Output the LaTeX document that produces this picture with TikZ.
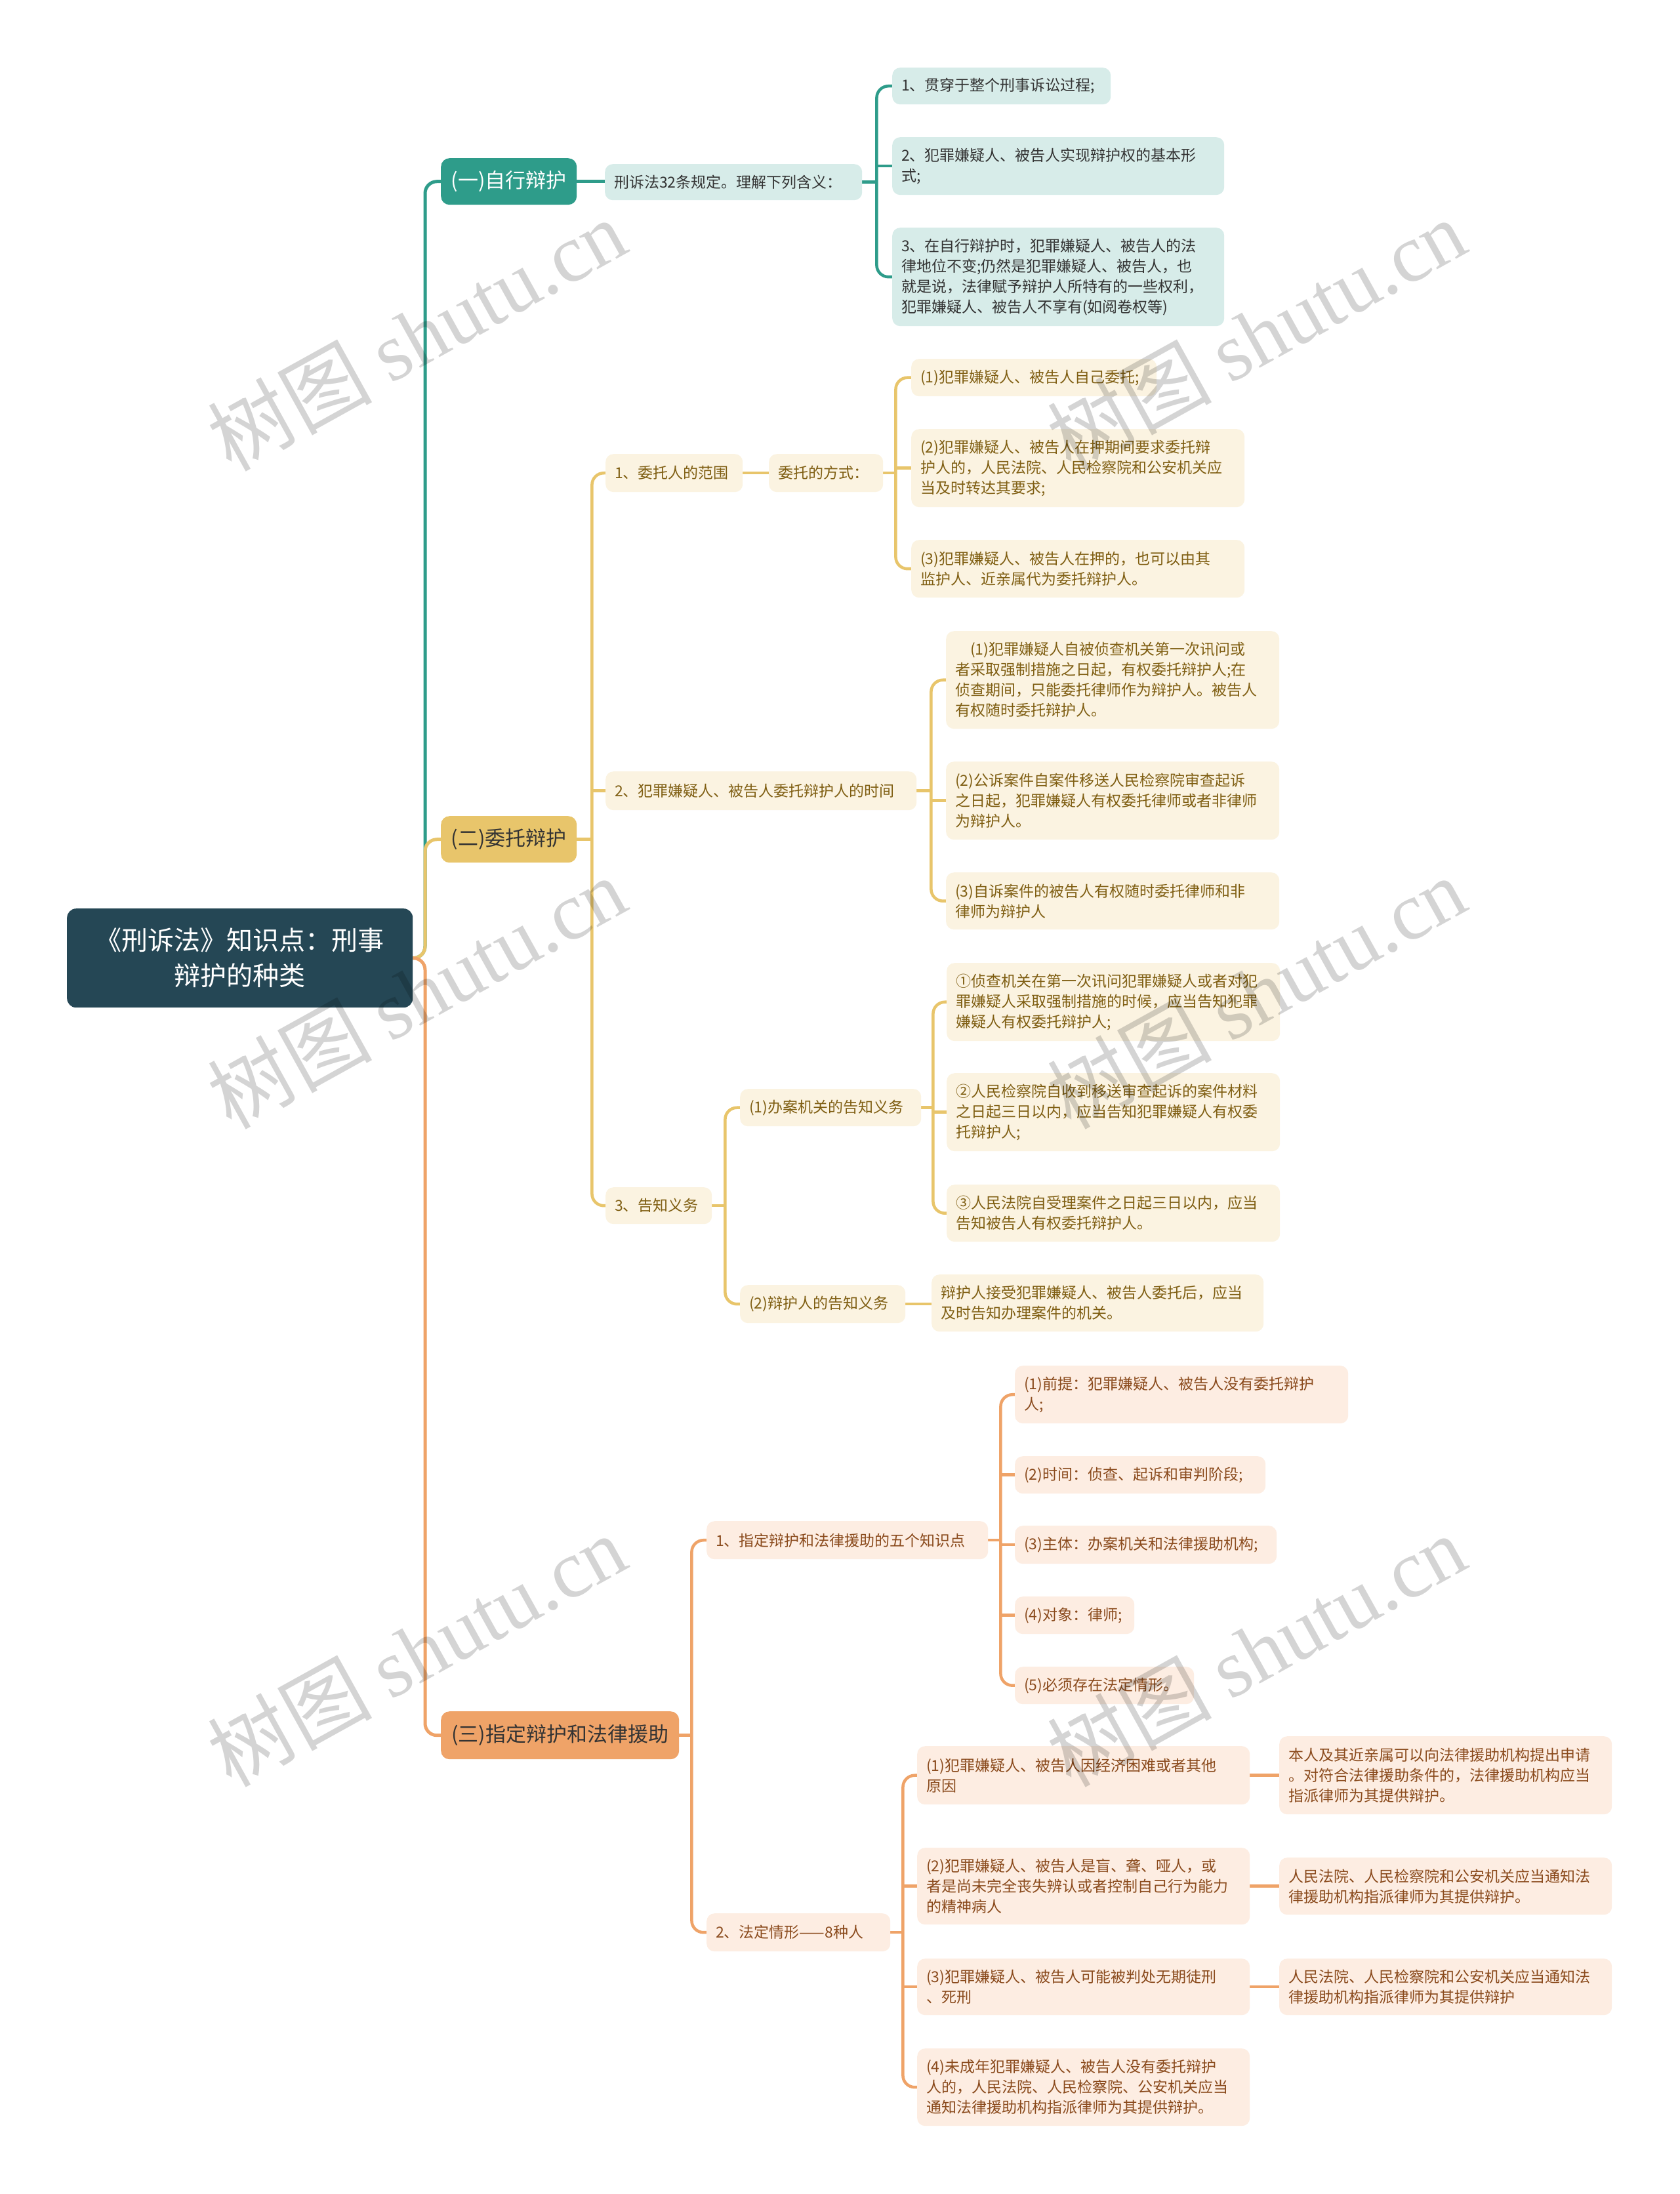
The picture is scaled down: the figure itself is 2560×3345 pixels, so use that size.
\documentclass[tikz,border=0pt]{standalone}
\usepackage{fontspec}
\setmainfont{Noto Sans CJK SC}
\newfontfamily\wmserif{Liberation Serif}
\newfontfamily\wmcjk{Noto Sans CJK SC}
\usetikzlibrary{calc}
\definecolor{rootc}{HTML}{254755}
\definecolor{tealc}{HTML}{2E9C8A}
\definecolor{tealfill}{HTML}{D7ECE9}
\definecolor{yelc}{HTML}{E8C56B}
\definecolor{yelfill}{HTML}{FBF3E1}
\definecolor{yeltext}{HTML}{7F5E12}
\definecolor{orc}{HTML}{EFA368}
\definecolor{orfill}{HTML}{FDEDE2}
\definecolor{ortext}{HTML}{8A4A1C}
\definecolor{darktext}{HTML}{333333}
\pgfdeclarelayer{bgwhite}
\pgfdeclarelayer{bg}
\pgfdeclarelayer{fg}
\pgfsetlayers{bgwhite,bg,main,fg}
\tikzset{
  box/.style={anchor=north west, inner xsep=14pt, inner ysep=0pt, align=left,
    rounded corners=12pt, font=\fontsize{23}{31}\selectfont},
  tealleaf/.style={box, fill=tealfill, text=darktext},
  yelleaf/.style={box, fill=yelfill, text=yeltext},
  orleaf/.style={box, fill=orfill, text=ortext},
  rootbox/.style={anchor=north west, inner xsep=14pt, inner ysep=0pt, align=center,
    rounded corners=14pt, fill=rootc, text=white, font=\fontsize{40}{54}\selectfont},
  topic/.style={anchor=north west, inner xsep=14pt, inner ysep=0pt, align=center,
    rounded corners=13pt, font=\fontsize{31}{40}\selectfont},
  trunk/.style={line width=5pt, rounded corners=18pt},
  conn/.style={line width=4.5pt, rounded corners=18pt},
  wm/.style={rotate=29, text=black, opacity=0.17, inner sep=0pt,
    font=\fontsize{125}{125}\selectfont}
}
\begin{document}
\begin{tikzpicture}[x=1pt,y=-1pt]
\begin{pgfonlayer}{bgwhite}
\fill[white] (0,0) rectangle (2560,3345);
\end{pgfonlayer}
\useasboundingbox (0,0) rectangle (2560,3345);

% root and main topics
\node[rootbox, text width=499pt, minimum height=151pt] (root) at (102,1385) {《刑诉法》知识点：刑事\\辩护的种类};
\node[topic, fill=tealc, text=white, text width=179pt, minimum height=71pt] (L1a) at (672,241) {(一)自行辩护};
\node[topic, fill=yelc, text=darktext, text width=179pt, minimum height=71pt] (L1b) at (672,1244) {(二)委托辩护};
\node[topic, fill=orc, text=darktext, text width=335pt, minimum height=73pt] (L1c) at (672,2609) {(三)指定辩护和法律援助};

% section 1
\node[tealleaf, text width=364pt, minimum height=55pt] (s1) at (922,250) {刑诉法32条规定。理解下列含义：};
\node[tealleaf, text width=305pt, minimum height=56pt] (s1a) at (1360,103) {1、贯穿于整个刑事诉讼过程;};
\node[tealleaf, text width=478pt, minimum height=88pt] (s1b) at (1360,209) {2、犯罪嫌疑人、被告人实现辩护权的基本形\\式;};
\node[tealleaf, text width=478pt, minimum height=150pt] (s1c) at (1360,347) {3、在自行辩护时，犯罪嫌疑人、被告人的法\\律地位不变;仍然是犯罪嫌疑人、被告人，也\\就是说，法律赋予辩护人所特有的一些权利，\\犯罪嫌疑人、被告人不享有(如阅卷权等)};

% section 2
\node[yelleaf, text width=181pt, minimum height=58pt] (s2a) at (923,692) {1、委托人的范围};
\node[yelleaf, text width=146pt, minimum height=58pt] (s2a0) at (1172,692) {委托的方式：};
\node[yelleaf, text width=346pt, minimum height=57pt] (s2a1) at (1389,547) {(1)犯罪嫌疑人、被告人自己委托;};
\node[yelleaf, text width=480pt, minimum height=119pt] (s2a2) at (1389,654) {(2)犯罪嫌疑人、被告人在押期间要求委托辩\\护人的，人民法院、人民检察院和公安机关应\\当及时转达其要求;};
\node[yelleaf, text width=480pt, minimum height=88pt] (s2a3) at (1389,823) {(3)犯罪嫌疑人、被告人在押的，也可以由其\\监护人、近亲属代为委托辩护人。};
\node[yelleaf, text width=446pt, minimum height=59pt] (s2b) at (923,1176) {2、犯罪嫌疑人、被告人委托辩护人的时间};
\node[yelleaf, text width=480pt, minimum height=149pt] (s2b1) at (1442,962) {\hspace*{1em}(1)犯罪嫌疑人自被侦查机关第一次讯问或\\者采取强制措施之日起，有权委托辩护人;在\\侦查期间，只能委托律师作为辩护人。被告人\\有权随时委托辩护人。};
\node[yelleaf, text width=480pt, minimum height=119pt] (s2b2) at (1442,1161) {(2)公诉案件自案件移送人民检察院审查起诉\\之日起，犯罪嫌疑人有权委托律师或者非律师\\为辩护人。};
\node[yelleaf, text width=480pt, minimum height=87pt] (s2b3) at (1442,1330) {(3)自诉案件的被告人有权随时委托律师和非\\律师为辩护人};
\node[yelleaf, text width=134pt, minimum height=56pt] (s2c) at (923,1810) {3、告知义务};
\node[yelleaf, text width=248pt, minimum height=57pt] (s2c1) at (1128,1660) {(1)办案机关的告知义务};
\node[yelleaf, text width=480pt, minimum height=119pt] (s2c11) at (1443,1468) {①侦查机关在第一次讯问犯罪嫌疑人或者对犯\\罪嫌疑人采取强制措施的时候，应当告知犯罪\\嫌疑人有权委托辩护人;};
\node[yelleaf, text width=480pt, minimum height=119pt] (s2c12) at (1443,1636) {②人民检察院自收到移送审查起诉的案件材料\\之日起三日以内，应当告知犯罪嫌疑人有权委\\托辩护人;};
\node[yelleaf, text width=480pt, minimum height=87pt] (s2c13) at (1443,1806) {③人民法院自受理案件之日起三日以内，应当\\告知被告人有权委托辩护人。};
\node[yelleaf, text width=224pt, minimum height=58pt] (s2c2) at (1128,1959) {(2)辩护人的告知义务};
\node[yelleaf, text width=478pt, minimum height=87pt] (s2c21) at (1420,1943) {辩护人接受犯罪嫌疑人、被告人委托后，应当\\及时告知办理案件的机关。};

% section 3
\node[orleaf, text width=401pt, minimum height=58pt] (s3a) at (1077,2319) {1、指定辩护和法律援助的五个知识点};
\node[orleaf, text width=480pt, minimum height=88pt] (s3a1) at (1547,2082) {(1)前提：犯罪嫌疑人、被告人没有委托辩护\\人;};
\node[orleaf, text width=354pt, minimum height=57pt] (s3a2) at (1547,2220) {(2)时间：侦查、起诉和审判阶段;};
\node[orleaf, text width=371pt, minimum height=58pt] (s3a3) at (1547,2326) {(3)主体：办案机关和法律援助机构;};
\node[orleaf, text width=154pt, minimum height=57pt] (s3a4) at (1547,2434) {(4)对象：律师;};
\node[orleaf, text width=245pt, minimum height=57pt] (s3a5) at (1547,2541) {(5)必须存在法定情形。};
\node[orleaf, text width=252pt, minimum height=58pt] (s3b) at (1077,2917) {2、法定情形——8种人};
\node[orleaf, text width=479pt, minimum height=89pt] (s3b1) at (1398,2662) {(1)犯罪嫌疑人、被告人因经济困难或者其他\\原因};
\node[orleaf, text width=479pt, minimum height=119pt] (s3b1r) at (1950,2647) {本人及其近亲属可以向法律援助机构提出申请\\。对符合法律援助条件的，法律援助机构应当\\指派律师为其提供辩护。};
\node[orleaf, text width=479pt, minimum height=117pt] (s3b2) at (1398,2817) {(2)犯罪嫌疑人、被告人是盲、聋、哑人，或\\者是尚未完全丧失辨认或者控制自己行为能力\\的精神病人};
\node[orleaf, text width=479pt, minimum height=87pt] (s3b2r) at (1950,2832) {人民法院、人民检察院和公安机关应当通知法\\律援助机构指派律师为其提供辩护。};
\node[orleaf, text width=479pt, minimum height=86pt] (s3b3) at (1398,2986) {(3)犯罪嫌疑人、被告人可能被判处无期徒刑\\、死刑};
\node[orleaf, text width=479pt, minimum height=86pt] (s3b3r) at (1950,2986) {人民法院、人民检察院和公安机关应当通知法\\律援助机构指派律师为其提供辩护};
\node[orleaf, text width=479pt, minimum height=118pt] (s3b4) at (1398,3123) {(4)未成年犯罪嫌疑人、被告人没有委托辩护\\人的，人民法院、人民检察院、公安机关应当\\通知法律援助机构指派律师为其提供辩护。};

% bracket points
\coordinate (b1) at ([xshift=22pt]s1.east);
\coordinate (b2) at ([xshift=23pt]L1b.east);
\coordinate (b3) at ([xshift=19pt]s2a0.east);
\coordinate (b4) at ([xshift=22pt]s2b.east);
\coordinate (b5) at ([xshift=20pt]s2c.east);
\coordinate (b6) at ([xshift=18pt]s2c1.east);
\coordinate (b7) at ([xshift=19pt]L1c.east);
\coordinate (b8) at ([xshift=19pt]s3a.east);
\coordinate (b9) at ([xshift=19pt]s3b.east);

\begin{pgfonlayer}{bg}
% trunk
\draw[trunk, tealc] (root.east) -| ([xshift=-24pt]L1a.west) -- (L1a.west);
\draw[trunk, yelc] (root.east) -| ([xshift=-24pt]L1b.west) -- (L1b.west);
\draw[trunk, orc] (root.east) -| ([xshift=-24pt]L1c.west) -- (L1c.west);
% section 1
\draw[conn, tealc] (L1a.east) -- (L1a.east -| s1.west);
\draw[conn, tealc] (s1.east) -- (b1);
\draw[conn, tealc] (s1a.west) -| (b1) |- (s1c.west);
\draw[conn, tealc] (b1 |- s1b.west) -- (s1b.west);
% section 2
\draw[conn, yelc] (L1b.east) -- (b2);
\draw[conn, yelc] (s2a.west) -| (b2) |- (s2c.west);
\draw[conn, yelc] (b2 |- s2b.west) -- (s2b.west);
\draw[conn, yelc] (s2a.east) -- (s2a.east -| s2a0.west);
\draw[conn, yelc] (s2a0.east) -- (b3);
\draw[conn, yelc] (s2a1.west) -| (b3) |- (s2a3.west);
\draw[conn, yelc] (b3 |- s2a2.west) -- (s2a2.west);
\draw[conn, yelc] (s2b.east) -- (b4);
\draw[conn, yelc] (s2b1.west) -| (b4) |- (s2b3.west);
\draw[conn, yelc] (b4 |- s2b2.west) -- (s2b2.west);
\draw[conn, yelc] (s2c.east) -- (b5);
\draw[conn, yelc] (s2c1.west) -| (b5) |- (s2c2.west);
\draw[conn, yelc] (s2c1.east) -- (b6);
\draw[conn, yelc] (s2c11.west) -| (b6) |- (s2c13.west);
\draw[conn, yelc] (b6 |- s2c12.west) -- (s2c12.west);
\draw[conn, yelc] (s2c2.east) -- (s2c2.east -| s2c21.west);
% section 3
\draw[conn, orc] (L1c.east) -- (b7);
\draw[conn, orc] (s3a.west) -| (b7) |- (s3b.west);
\draw[conn, orc] (s3a.east) -- (b8);
\draw[conn, orc] (s3a1.west) -| (b8) |- (s3a5.west);
\draw[conn, orc] (b8 |- s3a2.west) -- (s3a2.west);
\draw[conn, orc] (b8 |- s3a3.west) -- (s3a3.west);
\draw[conn, orc] (b8 |- s3a4.west) -- (s3a4.west);
\draw[conn, orc] (s3b.east) -- (b9);
\draw[conn, orc] (s3b1.west) -| (b9) |- (s3b4.west);
\draw[conn, orc] (b9 |- s3b2.west) -- (s3b2.west);
\draw[conn, orc] (b9 |- s3b3.west) -- (s3b3.west);
\draw[conn, orc] (s3b1.east) -- (s3b1r.west);
\draw[conn, orc] (s3b2.east) -- (s3b2r.west);
\draw[conn, orc] (s3b3.east) -- (s3b3r.west);
\end{pgfonlayer}

% watermark
\begin{pgfonlayer}{fg}
\foreach \i/\x/\y in {1/635/510, 2/1915/510, 3/635/1513, 4/1915/1513, 5/635/2516, 6/1915/2516}
  \node[wm] (wm\i) at (\x,\y) {{\wmcjk 树图} {\wmserif shutu.cn}};
\end{pgfonlayer}
\end{tikzpicture}
\end{document}
